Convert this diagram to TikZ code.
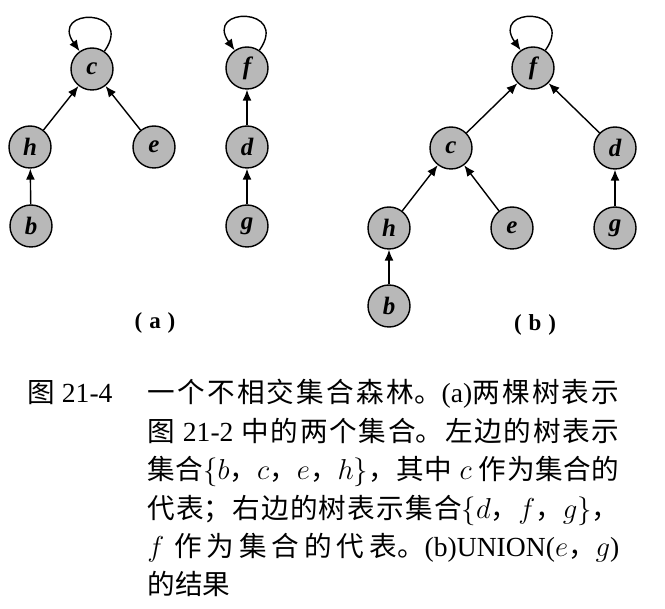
\documentclass[tikz,border=0pt]{standalone}
\usepackage{fontspec}
\setmainfont{Liberation Serif}
\newfontfamily\cjk{Noto Sans CJK SC}
\usetikzlibrary{arrows.meta}
\XeTeXlinebreaklocale "zh"
\XeTeXlinebreakskip=0pt plus 3pt
\begin{document}
\begin{tikzpicture}[x=0.5pt,y=-0.5pt,
 vtx/.style={circle,draw,line width=0.7pt,fill=black!28,minimum size=21pt,inner sep=0pt,font=\fontsize{12.5}{14}\selectfont\bfseries\itshape},
 arr/.style={-{Latex[length=5.5pt,width=4.5pt]},line width=0.7pt},
 sublabel/.style={font=\fontsize{11.5}{13}\selectfont\bfseries}]
 \useasboundingbox (0,0) rectangle (665,609);
 \node[vtx] (ca) at (92,69) {c};
 \node[vtx] (ha) at (30,147) {h};
 \node[vtx] (ea) at (154,147) {e};
 \node[vtx] (ba) at (31,226) {b};
 \node[vtx] (fa) at (247,68) {f};
 \node[vtx] (da) at (247,147) {d};
 \node[vtx] (ga) at (247,226) {g};
 \draw[arr] (ha) -- (ca);
 \draw[arr] (ea) -- (ca);
 \draw[arr] (ba) -- (ha);
 \draw[arr] (da) -- (fa);
 \draw[arr] (ga) -- (da);
 \draw[arr] (ca) to[out=55,in=125,looseness=5.5] (ca);
 \draw[arr] (fa) to[out=55,in=125,looseness=5.5] (fa);
 \node[sublabel] (la) at (155,323) {(\hspace{.3em}a\hspace{.3em})};
 \node[vtx] (fb) at (533,68) {f};
 \node[vtx] (cb) at (451,148) {c};
 \node[vtx] (db) at (615,148) {d};
 \node[vtx] (hb) at (389,228) {h};
 \node[vtx] (eb) at (512,228) {e};
 \node[vtx] (gb) at (615,228) {g};
 \node[vtx] (bb) at (389,306) {b};
 \draw[arr] (cb) -- (fb);
 \draw[arr] (db) -- (fb);
 \draw[arr] (hb) -- (cb);
 \draw[arr] (eb) -- (cb);
 \draw[arr] (gb) -- (db);
 \draw[arr] (bb) -- (hb);
 \draw[arr] (fb) to[out=55,in=125,looseness=5.5] (fb);
 \node[sublabel] (lb) at (535,325) {(\hspace{.3em}b\hspace{.3em})};
 \node[anchor=base west,inner sep=0pt,font=\fontsize{13.8}{19.2}\selectfont] (fig) at (27,403) {{\cjk 图} 21-4};
 \node[anchor=base west,inner sep=0pt,text width=236pt,align=justify,font=\fontsize{13.8}{19.2}\selectfont] (cap) at (147,403) {{\cjk 一个不相交集合森林。}(a){\cjk 两棵树表示}\linebreak
 {\cjk 图} 21-2 {\cjk 中的两个集合。左边的树表示}\linebreak
 {\cjk 集合}$\{b${\cjk ，}$c${\cjk ，}$e${\cjk ，}$h\}${\cjk ，其中} $c$ {\cjk 作为集合的}\linebreak
 {\cjk 代表；右边的树表示集合}$\{d${\cjk ，}$f${\cjk ，}$g\}${\cjk ，}\linebreak
 $f$ {\cjk 作为集合的代表。}(b)UNION($e${\cjk ，}$g$)\linebreak
 {\cjk 的结果}};
\end{tikzpicture}
\end{document}
